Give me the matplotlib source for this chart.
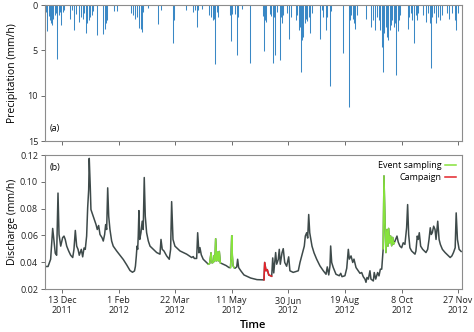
import numpy as np
import matplotlib
matplotlib.use("Agg")
import matplotlib.pyplot as plt
import matplotlib.dates as mdates

plt.rcParams["font.family"] = ["Open Sans", "DejaVu Sans"]

# days since 28 Nov 2011
start = "2011-11-28"
end_day = 368.4

# precipitation events (day, mm/h)
rain_day = [1.1, 2.0, 3.3, 4.4, 5.0, 6.2, 7.3, 8.6, 9.7, 10.9, 12.1, 13.3, 14.4, 15.6, 16.8,
            22.1, 23.6, 25.9, 27.4, 30.3, 31.5, 33.3, 34.5, 36.2, 37.4, 38.6, 39.8, 41.3, 42.7,
            45.7, 51.5, 52.7, 53.9, 55.0, 61.0, 63.9, 75.7, 78.0, 79.8, 81.5, 83.0, 84.5, 85.7,
            86.8, 91.3, 100.1, 102.5, 113.3, 114.2, 124.6, 130.5, 132.5, 134.0, 135.4, 138.4,
            145.1, 146.6, 148.1, 149.3, 150.4, 151.9, 153.1, 163.2, 164.3, 165.5, 167.8, 169.6,
            170.8, 173.8, 180.8, 192.8, 193.4, 194.3, 195.2, 198.8, 199.9, 201.1, 202.3, 203.4,
            204.7, 207.6, 208.5, 209.4, 210.5, 214.0, 215.8, 217.0, 221.7, 222.9, 224.1, 225.3,
            226.1, 227.0, 228.2, 229.4, 230.6, 231.7, 232.9, 234.4, 235.9, 242.9, 244.4, 245.8,
            248.2, 249.4, 251.8, 252.9, 263.0, 268.3, 269.4, 270.6, 271.8, 273.0, 274.3, 275.9,
            284.0, 288.4, 290.0, 291.5, 293.0, 295.1, 296.2, 297.5, 298.6, 299.8, 301.0, 302.1,
            303.3, 304.5, 305.7, 306.8, 308.0, 309.2, 310.3, 311.6, 312.7, 313.9, 320.3, 321.4,
            323.2, 324.3, 326.1, 327.4, 328.6, 329.7, 334.2, 336.6, 338.1, 340.1, 341.0, 342.1,
            343.9, 345.7, 347.5, 349.3, 350.5, 354.9, 356.9, 359.3, 362.2, 363.4, 364.6]
rain_mm = [0.8, 2.9, 1.2, 1.7, 2.0, 2.2, 1.5, 1.1, 0.9, 5.9, 1.1, 0.8, 2.2, 0.8, 0.5,
           1.5, 0.6, 2.8, 1.0, 1.9, 1.3, 1.5, 0.9, 3.1, 2.0, 1.7, 1.3, 1.1, 0.7,
           3.3, 3.2, 2.6, 2.0, 1.6, 0.7, 0.7, 0.9, 1.1, 1.5, 1.3, 2.5, 2.7, 3.0,
           0.8, 0.3, 2.1, 0.6, 4.2, 1.6, 0.5, 0.8, 0.6, 2.4, 0.6, 0.4,
           1.1, 1.3, 1.7, 1.5, 6.5, 0.8, 1.3, 1.1, 4.0, 1.0, 1.0, 5.5,
           1.3, 0.4, 6.4, 1.2, 5.1, 1.7, 1.9, 1.0, 1.2, 6.4, 1.3, 5.5,
           0.8, 6.1, 1.3, 2.0, 1.1, 0.9, 3.8, 1.3, 1.7, 1.1, 2.8, 2.4,
           7.4, 3.9, 3.5, 2.0, 1.5, 1.8, 1.3, 3.1, 0.9, 3.7, 0.6, 1.3,
           2.8, 1.3, 8.9, 0.7, 5.3, 11.2, 1.7, 1.1, 1.5, 2.0, 2.7, 1.1,
           1.5, 2.4, 1.7, 2.8, 1.3, 1.7, 2.8, 4.6, 7.4, 3.1, 2.4, 3.5,
           3.9, 2.8, 2.2, 1.7, 2.4, 2.0, 7.7, 2.9, 1.7, 1.1, 2.6, 1.3,
           0.9, 1.7, 4.2, 1.1, 1.7, 0.9, 1.1, 1.9, 0.9, 2.0, 7.0, 1.3,
           0.9, 2.0, 1.3, 1.7, 1.1, 0.9, 1.5, 0.9, 1.7, 2.8, 0.9]

# discharge (day, mm/h)
q_day = [0.0, 2.7, 5.0, 6.8, 8.0, 9.1, 10.3, 11.5, 12.4, 13.9, 15.6, 16.8, 17.9, 19.2, 20.9,
         22.7, 24.5, 25.6, 26.8, 28.0, 29.2, 30.3, 32.1, 33.3, 34.5, 35.6, 36.8, 37.7, 38.6,
         39.1, 40.0, 40.6, 42.1, 43.6, 45.1, 46.2, 47.4, 48.6, 50.4, 51.5, 52.7, 53.6, 54.5,
         55.4, 56.3, 57.4, 58.9, 60.3, 63.3, 66.3, 69.2, 72.2, 75.1, 77.3, 79.1, 79.9, 80.7,
         81.3, 81.9, 82.4, 83.0, 83.7, 84.8, 85.9, 86.8, 87.7, 88.6, 89.8, 91.3, 92.8, 95.7,
         98.7, 101.6, 102.5, 103.6, 105.1, 107.5, 109.8, 111.0, 111.9, 113.1, 114.8, 119.3,
         125.2, 129.6, 131.0, 131.9, 134.0, 134.9, 136.0, 136.9, 138.1, 139.8, 142.8, 144.3,
         145.5, 146.7, 147.6, 148.9, 149.6, 150.2, 150.8, 151.7, 152.6, 153.3, 154.0, 154.9,
         157.4, 160.0, 162.6, 163.9, 164.5, 165.0, 165.5, 166.1, 167.0, 167.9, 169.4, 170.2,
         171.1, 173.1, 175.8, 181.7, 187.3, 191.7, 193.5, 194.1, 195.3, 196.4, 197.7, 199.4,
         200.3, 201.2, 202.1, 203.8, 204.7, 206.1, 207.0, 207.9, 209.4, 210.5, 211.8, 213.5,
         215.3, 216.4, 219.3, 223.8, 225.3, 226.8, 228.2, 229.1, 230.0, 231.2, 232.1, 233.0,
         233.9, 234.7, 235.9, 237.7, 240.0, 242.9, 245.9, 248.3, 249.4, 250.7, 251.8, 252.4,
         253.3, 254.7, 257.1, 260.0, 261.3, 262.4, 265.0, 266.6, 268.0, 268.9, 270.4, 271.9,
         273.0, 274.8, 276.8, 278.3, 279.8, 281.2, 282.7, 283.6, 284.5, 285.7, 287.1, 288.0,
         290.1, 290.9, 292.2, 293.9, 295.1, 296.3, 297.5, 298.8, 299.5, 300.4, 301.2, 302.1,
         303.0, 303.6, 304.5, 305.4, 306.3, 307.2, 308.0, 308.6, 309.8, 311.0, 312.1, 313.6,
         315.1, 316.5, 318.0, 319.5, 320.4, 321.3, 322.4, 323.9, 325.4, 326.9, 327.7, 328.9,
         329.8, 330.7, 331.9, 333.7, 335.1, 336.6, 338.1, 339.3, 340.4, 341.3, 342.2, 343.4,
         344.6, 345.5, 347.0, 348.2, 349.3, 351.1, 353.5, 355.9, 358.0, 359.5, 360.9, 362.4,
         363.3, 364.4, 365.9, 367.7]
q_val = [0.0368, 0.0368, 0.0422, 0.0652, 0.0558, 0.0467, 0.0452, 0.0916, 0.0607, 0.0520, 0.0583,
         0.0595, 0.0570, 0.0520, 0.0484, 0.0452, 0.0435, 0.0496, 0.0637, 0.0520, 0.0496, 0.0452,
         0.0496, 0.0440, 0.0506, 0.0496, 0.0595, 0.0805, 0.0940, 0.1175, 0.0965, 0.0793, 0.0756,
         0.0719, 0.0681, 0.0644, 0.0674, 0.0607, 0.0583, 0.0558, 0.0607, 0.0681, 0.0644, 0.0955,
         0.0743, 0.0644, 0.0558, 0.0520, 0.0484, 0.0452, 0.0420, 0.0380, 0.0338, 0.0325, 0.0335,
         0.0370, 0.0447, 0.0520, 0.0496, 0.0595, 0.0785, 0.0570, 0.0620, 0.0706, 0.0644, 0.1032,
         0.0743, 0.0620, 0.0558, 0.0520, 0.0496, 0.0472, 0.0460, 0.0570, 0.0496, 0.0484, 0.0447,
         0.0422, 0.0496, 0.0852, 0.0570, 0.0520, 0.0484, 0.0460, 0.0435, 0.0442, 0.0428, 0.0428,
         0.0620, 0.0470, 0.0509, 0.0455, 0.0422, 0.0398, 0.0385, 0.0390, 0.0470, 0.0395, 0.0400,
         0.0450, 0.0410, 0.0575, 0.0410, 0.0475, 0.0410, 0.0480, 0.0395, 0.0385, 0.0375, 0.0360,
         0.0360, 0.0450, 0.0598, 0.0450, 0.0375, 0.0360, 0.0355, 0.0365, 0.0422, 0.0360, 0.0335,
         0.0305, 0.0282, 0.0270, 0.0268, 0.0268, 0.0398, 0.0336, 0.0345, 0.0305, 0.0299, 0.0295,
         0.0432, 0.0320, 0.0472, 0.0385, 0.0420, 0.0496, 0.0385, 0.0470, 0.0501, 0.0398, 0.0370,
         0.0440, 0.0336, 0.0324, 0.0336, 0.0398, 0.0447, 0.0496, 0.0520, 0.0595, 0.0620, 0.0580,
         0.0756, 0.0620, 0.0580, 0.0520, 0.0470, 0.0423, 0.0373, 0.0336, 0.0310, 0.0365, 0.0305,
         0.0373, 0.0521, 0.0398, 0.0360, 0.0310, 0.0299, 0.0317, 0.0292, 0.0299, 0.0355, 0.0496,
         0.0423, 0.0447, 0.0398, 0.0423, 0.0360, 0.0336, 0.0317, 0.0323, 0.0292, 0.0274, 0.0250,
         0.0286, 0.0274, 0.0336, 0.0274, 0.0260, 0.0323, 0.0274, 0.0323, 0.0298, 0.0348, 0.0348,
         0.0500, 0.1044, 0.0694, 0.0472, 0.0644, 0.0520, 0.0652, 0.0545, 0.0595, 0.0523, 0.0585,
         0.0535, 0.0545, 0.0570, 0.0595, 0.0550, 0.0520, 0.0508, 0.0545, 0.0533, 0.0657, 0.0830,
         0.0607, 0.0508, 0.0484, 0.0472, 0.0460, 0.0484, 0.0595, 0.0570, 0.0620, 0.0520, 0.0496,
         0.0484, 0.0472, 0.0496, 0.0570, 0.0657, 0.0607, 0.0620, 0.0669, 0.0644, 0.0570, 0.0706,
         0.0570, 0.0533, 0.0496, 0.0472, 0.0452, 0.0435, 0.0447, 0.0472, 0.0508, 0.0768, 0.0570,
         0.0496, 0.0480]

# sampling periods (day ranges)
event_spans = [(144.3, 154.9), (163.9, 167.0), (298.8, 308.6)]
campaign_spans = [(193.5, 200.3)]

tick_dates = ["2011-12-13", "2012-02-01", "2012-03-22", "2012-05-11",
              "2012-06-30", "2012-08-19", "2012-10-08", "2012-11-27"]
tick_labels = ["13 Dec\n2011", "1 Feb\n2012", "22 Mar\n2012", "11 May\n2012",
               "30 Jun\n2012", "19 Aug\n2012", "8 Oct\n2012", "27 Nov\n2012"]

t0 = mdates.datestr2num(start)
rain_t = t0 + np.array(rain_day)
qd = np.array(q_day)
q_t = t0 + qd
q = np.array(q_val)
ticks = [mdates.datestr2num(d) for d in tick_dates]

fig = plt.figure(figsize=(4.74, 3.32), dpi=100)
ax1 = fig.add_axes([0.0949, 0.5753, 0.8797, 0.4096])
ax2 = fig.add_axes([0.0949, 0.1295, 0.8797, 0.4036])

spine_col = "#8c8c8c"
for ax in (ax1, ax2):
    for s in ax.spines.values():
        s.set_color(spine_col)
        s.set_linewidth(0.8)
    ax.tick_params(direction="out", length=3, width=0.6, color="#555555",
                   labelsize=6.5, pad=2, labelcolor="#222222")
    ax.set_xlim(t0, t0 + end_day)
    ax.set_xticks(ticks)

# (a) precipitation hanging from the top
ax1.vlines(rain_t, 0, rain_mm, color="#3a88c5", lw=0.75)
ax1.set_ylim(15, 0)
ax1.set_yticks([0, 5, 10, 15])
ax1.set_xticklabels([])
ax1.set_ylabel("Precipitation (mm/h)", fontsize=7.5)
ax1.yaxis.set_label_coords(-0.065, 0.5)
ax1.text(0.012, 0.07, "(a)", transform=ax1.transAxes, fontsize=6.5)

# (b) discharge with sampling periods highlighted
ax2.plot(q_t, q, color="#3e4a4a", lw=1.1)
for i, (a, b) in enumerate(event_spans):
    m = (qd >= a) & (qd <= b)
    ax2.plot(q_t[m], q[m], color="#86e23c", lw=1.1,
             label="Event sampling" if i == 0 else None)
for i, (a, b) in enumerate(campaign_spans):
    m = (qd >= a) & (qd <= b)
    ax2.plot(q_t[m], q[m], color="#e3242b", lw=1.1,
             label="Campaign" if i == 0 else None)
ax2.set_ylim(0.02, 0.12)
ax2.set_yticks([0.02, 0.04, 0.06, 0.08, 0.10, 0.12])
ax2.set_yticklabels(["0.02", "0.04", "0.06", "0.08", "0.10", "0.12"])
ax2.set_xticklabels(tick_labels, fontsize=6.5)
ax2.set_ylabel("Discharge (mm/h)", fontsize=7.5)
ax2.yaxis.set_label_coords(-0.065, 0.5)
ax2.set_xlabel("Time", fontsize=8, labelpad=3, fontweight="semibold")
ax2.text(0.012, 0.89, "(b)", transform=ax2.transAxes, fontsize=6.5)
ax2.legend(loc="upper right", frameon=False, markerfirst=False, fontsize=6.5,
           handlelength=1.2, handletextpad=0.4, labelspacing=0.3,
           borderaxespad=0.3)

fig.savefig("out.png", dpi=100)
